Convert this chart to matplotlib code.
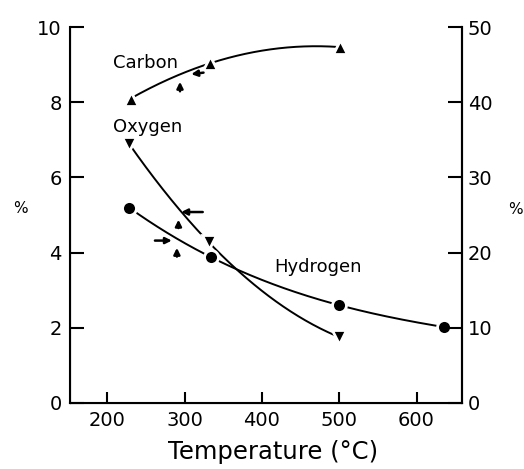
import numpy as np
import matplotlib
matplotlib.use("Agg")
import matplotlib.pyplot as plt

# values (left axis, %)
carbon_t = [230, 333, 501]
carbon_v = [8.1, 9.04, 9.47]
oxygen_t = [228, 331, 500]
oxygen_v = [6.9, 4.28, 1.75]
hydrogen_t = [228, 334, 500, 635]
hydrogen_v = [5.2, 3.88, 2.6, 2.02]

x_ticks = [200, 300, 400, 500, 600]
left_ticks = [0, 2, 4, 6, 8, 10]
right_ticks = [0, 10, 20, 30, 40, 50]

plt.rcParams['font.family'] = ['DejaVu Sans']


def smooth(ax, t, v, **kw):
    """Draw a smooth curve that passes through the measured points."""
    tt = np.linspace(min(t), max(t), 200)
    coef = np.polyfit(t, v, len(t) - 1)
    ax.plot(tt, np.polyval(coef, tt), **kw)


fig = plt.figure(figsize=(5.24, 4.69), dpi=100)
ax = fig.add_axes([0.134, 0.141, 0.748, 0.801])

line_kw = dict(color='black', lw=1.4, zorder=2)
smooth(ax, carbon_t, carbon_v, **line_kw)
smooth(ax, oxygen_t, oxygen_v, **line_kw)
smooth(ax, hydrogen_t, hydrogen_v, **line_kw)

mk_kw = dict(ls='none', color='black', mec='white', mew=2.0, zorder=3)
ax.plot(carbon_t, carbon_v, marker='^', ms=10, **mk_kw)
ax.plot(oxygen_t, oxygen_v, marker='v', ms=10, **mk_kw)
ax.plot(hydrogen_t, hydrogen_v, marker='o', ms=10, **mk_kw)

# small pointer arrows on the curves
arr = dict(arrowstyle='-|>', color='black', lw=1.8, mutation_scale=9)
ax.annotate('', xy=(305, 8.74), xytext=(328, 8.80), arrowprops=arr)
ax.annotate('', xy=(294, 8.62), xytext=(294, 8.22), arrowprops=arr)
ax.annotate('', xy=(292, 5.08), xytext=(327, 5.08), arrowprops=arr)
ax.annotate('', xy=(292, 4.95), xytext=(292, 4.58), arrowprops=arr)
ax.annotate('', xy=(287, 4.32), xytext=(258, 4.32), arrowprops=arr)
ax.annotate('', xy=(290, 4.2), xytext=(290, 3.82), arrowprops=arr)

ax.text(207, 9.05, 'Carbon', fontsize=13, va='center', ha='left')
ax.text(207, 7.34, 'Oxygen', fontsize=13, va='center', ha='left')
ax.text(416, 3.62, 'Hydrogen', fontsize=13, va='center', ha='left')

ax.set_xlim(152, 659)
ax.set_ylim(0, 10)
ax.set_xticks(x_ticks)
ax.set_yticks(left_ticks)
ax.spines['top'].set_visible(False)
for s in ['left', 'bottom', 'right']:
    ax.spines[s].set_linewidth(1.5)
ax.tick_params(axis='y', direction='in', length=10, width=1.5, pad=6, labelsize=14)
ax.tick_params(axis='x', direction='in', length=8, width=1.5, pad=6, labelsize=14)

ax2 = ax.twinx()
ax2.set_ylim(0, 50)
ax2.set_yticks(right_ticks)
ax2.spines['top'].set_visible(False)
ax2.spines['right'].set_linewidth(1.5)
ax2.tick_params(axis='y', direction='in', length=10, width=1.5, pad=4, labelsize=14)

fig.text(273 / 524, 1 - 452 / 469, 'Temperature (°C)', fontsize=17.5, ha='center', va='center')
fig.text(20 / 524, 1 - 208 / 469, '%', fontsize=11, ha='center', va='center')
fig.text(515 / 524, 1 - 210 / 469, '%', fontsize=11, ha='center', va='center')

fig.savefig('out.png', dpi=100)
